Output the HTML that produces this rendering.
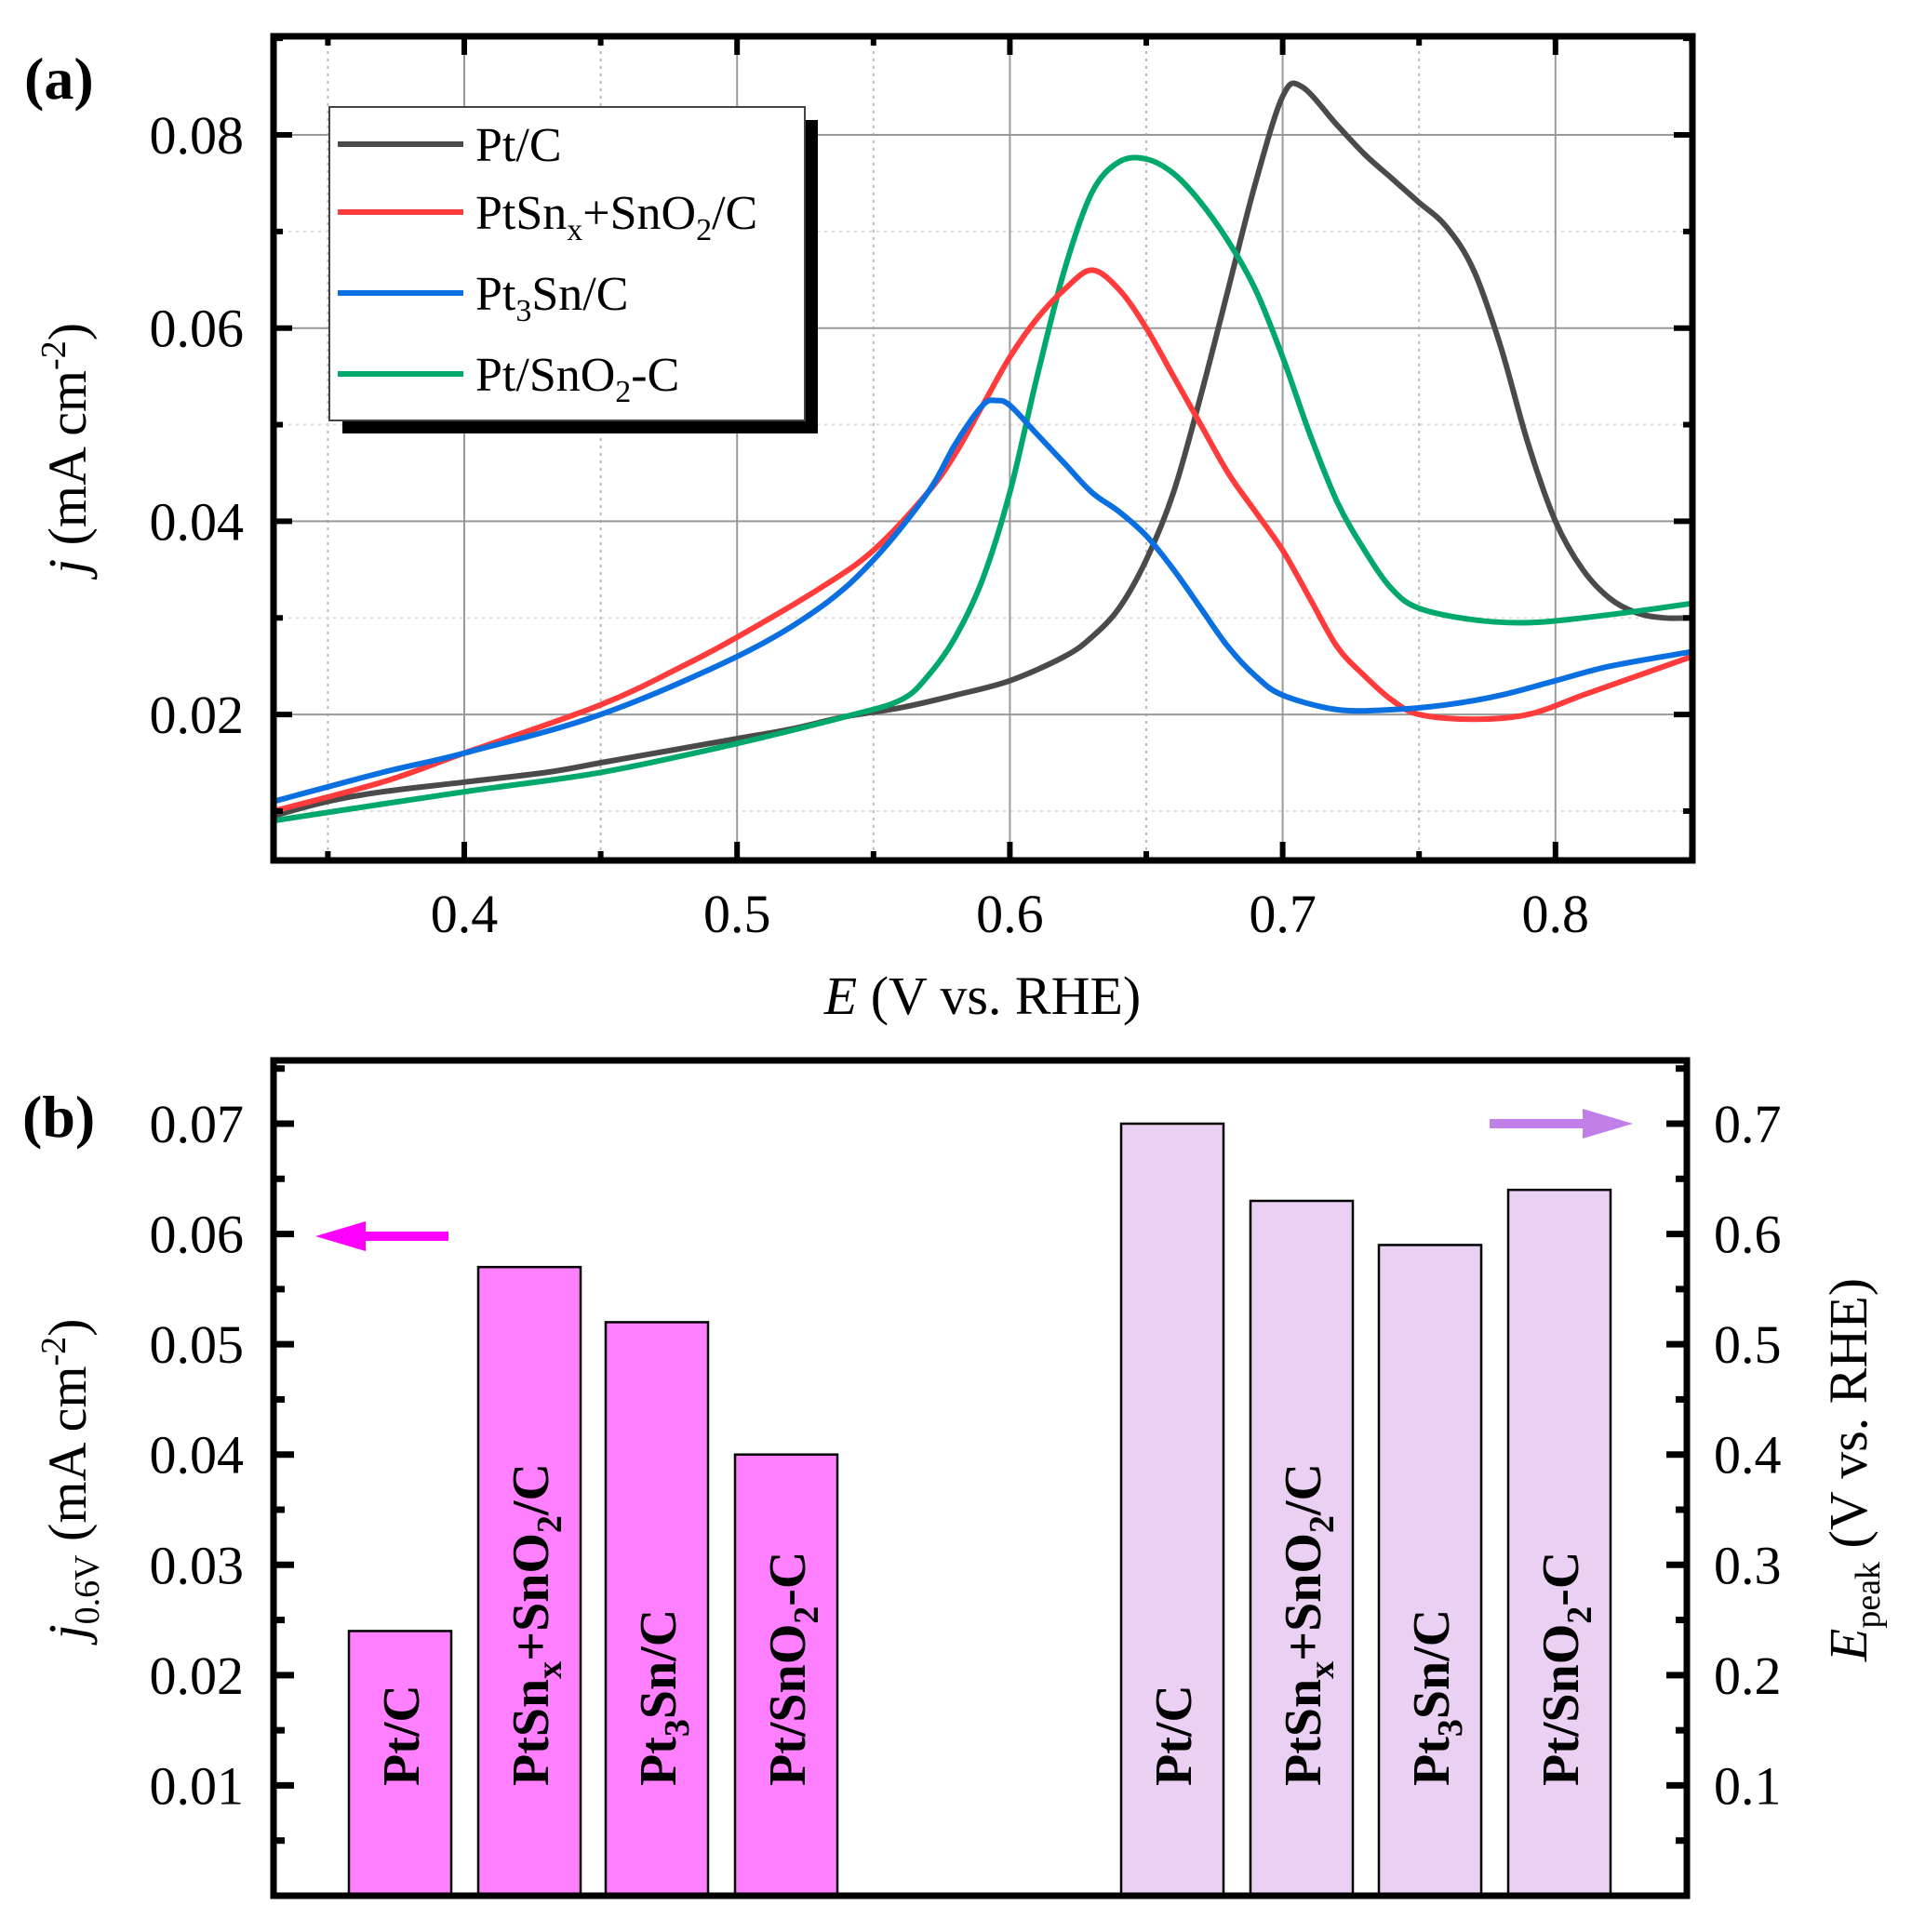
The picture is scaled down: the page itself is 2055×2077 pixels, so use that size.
<!DOCTYPE html>
<html><head><meta charset="utf-8"><style>
html,body{margin:0;padding:0;background:#fff;}
svg{display:block;font-family:"Liberation Serif",serif;}
</style></head><body>
<svg id="fig" width="2055" height="2077" viewBox="0 0 2055 2077" xmlns="http://www.w3.org/2000/svg">
<g id="pa"></g>
<g id="pb"></g>
</svg>
<script>
// ---- Panel (a) data ----
const ptcE = [0.33,0.35,0.37,0.40,0.43,0.45,0.48,0.50,0.52,0.54,0.56,0.58,0.60,0.62,0.63,0.64,0.65,0.66,0.67,0.68,0.69,0.70,0.707,0.72,0.73,0.74,0.75,0.76,0.77,0.78,0.79,0.80,0.81,0.82,0.83,0.84,0.85];
const ptcJ = [0.0095,0.011,0.012,0.013,0.014,0.015,0.0165,0.0175,0.0185,0.0198,0.0207,0.022,0.0235,0.026,0.028,0.031,0.036,0.043,0.053,0.064,0.075,0.084,0.085,0.081,0.078,0.0755,0.073,0.0705,0.066,0.058,0.048,0.040,0.035,0.032,0.0305,0.030,0.030];
const ptsnE = [0.33,0.37,0.40,0.45,0.48,0.50,0.53,0.55,0.57,0.58,0.59,0.60,0.61,0.62,0.63,0.64,0.65,0.66,0.67,0.68,0.69,0.70,0.71,0.72,0.73,0.74,0.75,0.77,0.79,0.81,0.83,0.85];
const ptsnJ = [0.010,0.013,0.016,0.021,0.025,0.028,0.033,0.037,0.043,0.047,0.052,0.057,0.061,0.064,0.066,0.064,0.060,0.055,0.050,0.045,0.041,0.037,0.032,0.027,0.024,0.0215,0.020,0.0195,0.020,0.022,0.024,0.026];
const pt3E = [0.33,0.37,0.40,0.45,0.50,0.53,0.55,0.57,0.58,0.59,0.595,0.60,0.61,0.62,0.63,0.64,0.65,0.66,0.67,0.68,0.69,0.70,0.72,0.74,0.76,0.78,0.80,0.82,0.85];
const pt3J = [0.011,0.014,0.016,0.020,0.026,0.031,0.036,0.043,0.048,0.052,0.0525,0.052,0.049,0.046,0.043,0.041,0.0385,0.035,0.031,0.027,0.024,0.022,0.0205,0.0205,0.021,0.022,0.0235,0.025,0.0265];
const sno2E = [0.33,0.40,0.45,0.50,0.54,0.56,0.57,0.58,0.59,0.60,0.61,0.62,0.63,0.64,0.65,0.66,0.67,0.68,0.69,0.70,0.71,0.72,0.73,0.74,0.75,0.77,0.79,0.81,0.83,0.85];
const sno2J = [0.009,0.012,0.014,0.017,0.0198,0.0215,0.024,0.028,0.034,0.043,0.055,0.066,0.074,0.0772,0.0775,0.076,0.073,0.069,0.064,0.057,0.049,0.042,0.037,0.033,0.031,0.0298,0.0295,0.030,0.0307,0.0315];
const xTicksA = [0.4,0.5,0.6,0.7,0.8];
const yTicksA = [0.02,0.04,0.06,0.08];
// ---- Panel (b) data ----
const catsB = ["Pt/C","PtSnx+SnO2/C","Pt3Sn/C","Pt/SnO2-C"];
const jVals = [0.024,0.057,0.052,0.040];
const eVals = [0.70,0.63,0.59,0.64];
const yTicksL = [0.01,0.02,0.03,0.04,0.05,0.06,0.07];
const yTicksR = [0.1,0.2,0.3,0.4,0.5,0.6,0.7];

const NS="http://www.w3.org/2000/svg";
function mk(parent,tag,attrs){const e=document.createElementNS(NS,tag);for(const k in attrs)e.setAttribute(k,attrs[k]);parent.appendChild(e);return e;}
function smooth(p){let d='M'+p[0][0].toFixed(1)+','+p[0][1].toFixed(1);
 for(let i=0;i<p.length-1;i++){const a=p[Math.max(0,i-1)],b=p[i],c=p[i+1],e=p[Math.min(p.length-1,i+2)];
  const c1=[b[0]+(c[0]-a[0])/6,b[1]+(c[1]-a[1])/6],c2=[c[0]-(e[0]-b[0])/6,c[1]-(e[1]-b[1])/6];
  d+=' C'+c1[0].toFixed(1)+','+c1[1].toFixed(1)+' '+c2[0].toFixed(1)+','+c2[1].toFixed(1)+' '+c[0].toFixed(1)+','+c[1].toFixed(1);}
 return d;}

// ---------- Panel A ----------
const pa=document.getElementById('pa');
const AL=294,AR=1819,AT=39,AB=925;
const ax=v=>499+(v-0.4)*2932;
const ay=v=>145+(0.08-v)*10385;
for(let v=0.35;v<0.851;v+=0.1){const g=mk(pa,'line',{x1:ax(v),x2:ax(v),y1:AT,y2:AB,stroke:'#bbb','stroke-width':2,'stroke-dasharray':'3,5'});}
for(let v=0.01;v<0.091;v+=0.02){const g=mk(pa,'line',{x1:AL,x2:AR,y1:ay(v),y2:ay(v),stroke:'#ddd','stroke-width':2,'stroke-dasharray':'3,5'});}
xTicksA.forEach(v=>{const g=mk(pa,'line',{x1:ax(v),x2:ax(v),y1:AT,y2:AB,stroke:'#999','stroke-width':2});});
yTicksA.forEach(v=>{const g=mk(pa,'line',{x1:AL,x2:AR,y1:ay(v),y2:ay(v),stroke:'#999','stroke-width':2});});
const series=[[ptcE,ptcJ,'#4a4a4a','curve-pt-c'],[sno2E,sno2J,'#00a86b','curve-pt-sno2-c'],[ptsnE,ptsnJ,'#ff3b3b','curve-ptsnx-sno2-c'],[pt3E,pt3J,'#0a6fe0','curve-pt3sn-c']];
series.forEach(s=>{const pts=s[0].map((e,i)=>[ax(e),ay(s[1][i])]);
 const p=mk(pa,'path',{d:smooth(pts),fill:'none',stroke:s[2],'stroke-width':6,'stroke-linejoin':'round'});
 });
const fa=mk(pa,'rect',{x:AL,y:AT,width:AR-AL,height:AB-AT,fill:'none',stroke:'#000','stroke-width':7});

for(let v=0.35;v<0.851;v+=0.05){const maj=xTicksA.some(t=>Math.abs(t-v)<1e-6);const L=maj?20:10;
 mk(pa,'line',{x1:ax(v),x2:ax(v),y1:AB,y2:AB-L,stroke:'#000','stroke-width':6});
 mk(pa,'line',{x1:ax(v),x2:ax(v),y1:AT,y2:AT+L,stroke:'#000','stroke-width':6});}
for(let v=0.01;v<0.0901;v+=0.01){const maj=yTicksA.some(t=>Math.abs(t-v)<1e-6);const L=maj?20:10;
 mk(pa,'line',{x1:AL,x2:AL+L,y1:ay(v),y2:ay(v),stroke:'#000','stroke-width':6});
 mk(pa,'line',{x1:AR,x2:AR-L,y1:ay(v),y2:ay(v),stroke:'#000','stroke-width':6});}
xTicksA.forEach(v=>{const t=mk(pa,'text',{x:ax(v),y:1002,'font-size':58,'text-anchor':'middle'});t.textContent=v.toFixed(1);});
yTicksA.forEach(v=>{const t=mk(pa,'text',{x:262,y:ay(v)+20,'font-size':58,'text-anchor':'end'});t.textContent=v.toFixed(2);});
</script>
<script>
(function(){
const pa=document.getElementById('pa');
pa.insertAdjacentHTML('beforeend',`
<text x="26" y="106" font-size="64" font-weight="bold">(a)</text>
<text x="1056" y="1090" font-size="58" text-anchor="middle"><tspan font-style="italic">E</tspan> (V vs. RHE)</text>
<text transform="translate(92,482) rotate(-90)" font-size="58" text-anchor="middle"><tspan font-style="italic">j</tspan> (mA cm<tspan font-size="38" dy="-22">-2</tspan><tspan dy="22">)</tspan></text>
<g>
<rect x="368" y="129" width="511" height="337" fill="#000"/>
<rect x="354" y="115" width="511" height="337" fill="#fff" stroke="#444" stroke-width="2"/>
<line x1="363" x2="498" y1="155" y2="155" stroke="#4a4a4a" stroke-width="6"/>
<text x="511" y="173" font-size="52">Pt/C</text>
<line x1="363" x2="498" y1="228" y2="228" stroke="#ff3b3b" stroke-width="6"/>
<text x="511" y="246" font-size="52">PtSn<tspan font-size="34" dy="12">x</tspan><tspan dy="-12">+SnO</tspan><tspan font-size="34" dy="12">2</tspan><tspan dy="-12">/C</tspan></text>
<line x1="363" x2="498" y1="315" y2="315" stroke="#0a6fe0" stroke-width="6"/>
<text x="511" y="333" font-size="52">Pt<tspan font-size="34" dy="12">3</tspan><tspan dy="-12">Sn/C</tspan></text>
<line x1="363" x2="498" y1="402" y2="402" stroke="#00a86b" stroke-width="6"/>
<text x="511" y="420" font-size="52">Pt/SnO<tspan font-size="34" dy="12">2</tspan><tspan dy="-12">-C</tspan></text>
</g>`);
})();
</script>
<script>
(function(){
const pb=document.getElementById('pb');
const BL=294,BR=1813,BT=1140,BB=2038;
const byL=v=>2038-v*11857;
const byR=v=>2038-v*1185.7;
const cxL=[430,569,706,845], cxR=[1260,1399,1537,1676], W=110;
const labelsHTML=['Pt/C','PtSn<tspan font-size="38" dy="14">x</tspan><tspan dy="-14">+SnO</tspan><tspan font-size="38" dy="14">2</tspan><tspan dy="-14">/C</tspan>','Pt<tspan font-size="38" dy="14">3</tspan><tspan dy="-14">Sn/C</tspan>','Pt/SnO<tspan font-size="38" dy="14">2</tspan><tspan dy="-14">-C</tspan>'];
jVals.forEach((v,i)=>{const r=mk(pb,'rect',{x:cxL[i]-W/2,y:byL(v),width:W,height:BB-byL(v),fill:'#ff80ff',stroke:'#000','stroke-width':2.5});
 });
eVals.forEach((v,i)=>{const r=mk(pb,'rect',{x:cxR[i]-W/2,y:byR(v),width:W,height:BB-byR(v),fill:'#ead0f2',stroke:'#000','stroke-width':2.5});
 });
[cxL,cxR].forEach((arr,k)=>arr.forEach((c,i)=>{const t=mk(pb,'text',{transform:`translate(${c+20},1920) rotate(-90)`,'font-size':56,'font-weight':'bold'});
 t.innerHTML=labelsHTML[i];}));
const f=mk(pb,'rect',{x:BL,y:BT,width:BR-BL,height:BB-BT,fill:'none',stroke:'#000','stroke-width':7});

for(let k=1;k<=15;k++){const v=k*0.005;const maj=k%2===0;const L=maj?22:12;const y=byL(v);if(y<BT+5)continue;
 mk(pb,'line',{x1:BL,x2:BL+L,y1:y,y2:y,stroke:'#000','stroke-width':7});
 mk(pb,'line',{x1:BR,x2:BR-L,y1:y,y2:y,stroke:'#000','stroke-width':7});}
yTicksL.forEach(v=>{const t=mk(pb,'text',{x:262,y:byL(v)+20,'font-size':58,'text-anchor':'end'});t.textContent=v.toFixed(2);});
yTicksR.forEach(v=>{const t=mk(pb,'text',{x:1842,y:byR(v)+20,'font-size':58});t.textContent=v.toFixed(1);});
pb.insertAdjacentHTML('beforeend',`
<text x="24" y="1222" font-size="64" font-weight="bold">(b)</text>
<text transform="translate(92,1590) rotate(-90)" font-size="58" text-anchor="middle"><tspan font-style="italic">j</tspan><tspan font-size="38" dy="14">0.6V</tspan><tspan dy="-14"> (mA cm</tspan><tspan font-size="38" dy="-22">-2</tspan><tspan dy="22">)</tspan></text>
<text transform="translate(2006,1580) rotate(-90)" font-size="58" text-anchor="middle"><tspan font-style="italic">E</tspan><tspan font-size="38" dy="14">peak</tspan><tspan dy="-14"> (V vs. RHE)</tspan></text>
<g><line x1="482" x2="380" y1="1329" y2="1329" stroke="#ff00ff" stroke-width="10"/><polygon points="339,1329 393,1313 393,1345" fill="#ff00ff"/></g>
<g><line x1="1601" x2="1715" y1="1208" y2="1208" stroke="#c080e8" stroke-width="10"/><polygon points="1755,1208 1701,1192 1701,1224" fill="#c080e8"/></g>`);
})();
</script>
</body></html>
